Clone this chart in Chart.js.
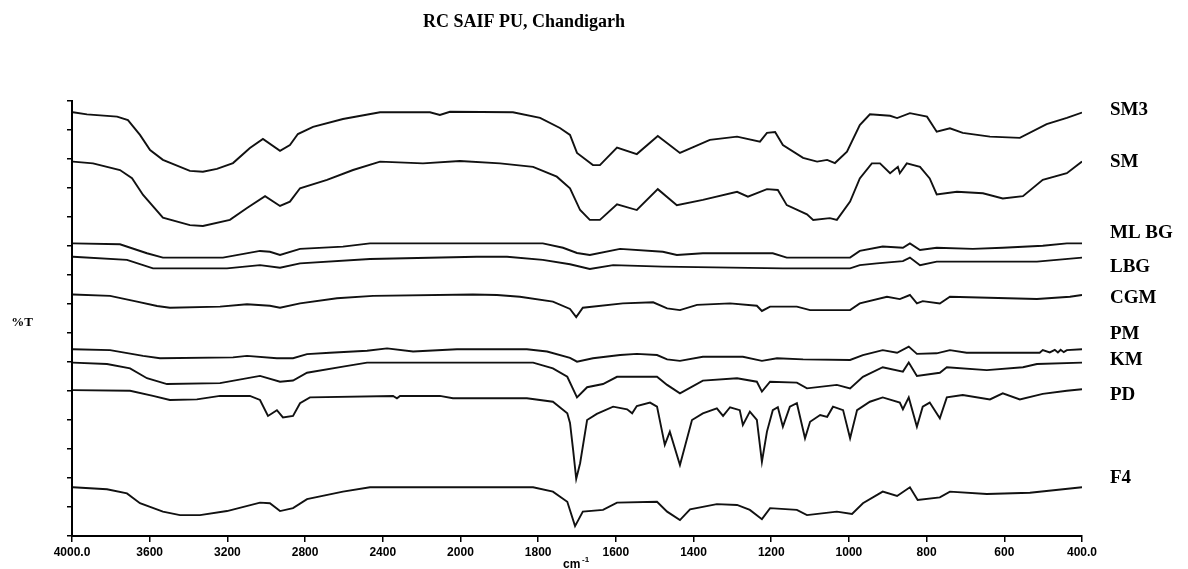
<!DOCTYPE html>
<html>
<head>
<meta charset="utf-8">
<title>RC SAIF PU, Chandigarh</title>
<script src="https://cdn.jsdelivr.net/npm/chart.js@4.4.1/dist/chart.umd.min.js"></script>
<style>
  body { margin: 0; background: #fff; }
  canvas { display: block; background: #fff; }
</style>
</head>
<body>
<canvas id="ftir" width="1188" height="569"></canvas>
<script>
'use strict';
// chart texts
var chartTitle = 'RC SAIF PU, Chandigarh';
var yTitle = '%T';
var tickWn = [4000, 3600, 3200, 2800, 2400, 2000, 1800, 1600, 1400, 1200, 1000, 800, 600, 400];
var tickText = ['4000.0', '3600', '3200', '2800', '2400', '2000', '1800', '1600', '1400', '1200', '1000', '800', '600', '400.0'];
var sampleNames = ['SM3', 'SM', 'ML BG', 'LBG', 'CGM', 'PM', 'KM', 'PD', 'F4'];

// spectra (wavenumber, stacked %T)
var sm3Wn = [3995, 3923, 3768, 3712, 3650, 3598, 3532, 3393, 3326, 3254, 3171, 3084, 3017, 2929, 2878, 2837, 2759, 2605, 2414, 2157, 2106, 2054, 1865, 1795, 1744, 1718, 1700, 1659, 1641, 1597, 1546, 1492, 1435, 1358, 1288, 1229, 1211, 1190, 1170, 1118, 1082, 1056, 1036, 1005, 972, 946, 894, 876, 843, 799, 774, 740, 707, 637, 560, 491, 439, 400];
var sm3T = [146.1, 145.4, 144.6, 143.4, 138.3, 133.1, 129.7, 125.9, 125.6, 126.6, 128.6, 133.8, 136.9, 132.8, 134.8, 138.6, 141.1, 143.8, 146.1, 146.1, 145.2, 146.3, 146.1, 144.2, 140.7, 138.3, 132.1, 127.9, 127.9, 133.9, 131.7, 137.9, 132.1, 136.6, 137.7, 136.0, 139.0, 139.3, 134.8, 130.4, 129.1, 129.7, 128.6, 132.5, 141.7, 145.4, 144.9, 144.1, 145.8, 144.6, 139.4, 140.6, 139.0, 137.7, 137.3, 142.0, 144.2, 146.0];

var smWn = [3995, 3892, 3753, 3691, 3634, 3532, 3393, 3326, 3187, 3099, 3006, 2929, 2878, 2826, 2687, 2553, 2414, 2193, 2003, 1898, 1813, 1752, 1718, 1692, 1667, 1641, 1597, 1546, 1492, 1443, 1376, 1288, 1260, 1211, 1183, 1160, 1108, 1092, 1049, 1031, 997, 972, 941, 920, 894, 874, 869, 851, 817, 792, 774, 722, 655, 604, 552, 501, 439, 400];
var smT = [129.1, 128.5, 126.2, 123.4, 117.6, 109.8, 107.2, 106.9, 109.0, 113.1, 117.2, 113.8, 115.3, 119.9, 122.8, 126.2, 129.1, 128.5, 129.3, 128.5, 127.3, 123.9, 119.9, 112.4, 109.0, 109.0, 114.4, 112.4, 119.6, 114.1, 115.9, 118.7, 117.0, 119.6, 119.3, 114.1, 110.9, 109.0, 109.6, 109.0, 115.3, 123.3, 128.5, 128.5, 125.1, 127.3, 125.1, 128.5, 127.3, 123.3, 117.8, 118.7, 118.2, 116.4, 117.2, 122.8, 125.1, 129.1];

var mlbgWn = [3995, 3753, 3614, 3532, 3223, 3032, 2981, 2929, 2826, 2605, 2466, 1788, 1736, 1700, 1667, 1589, 1479, 1443, 1376, 1196, 1160, 997, 972, 913, 861, 843, 817, 774, 681, 604, 501, 439, 400];
var mlbgT = [100.9, 100.6, 97.5, 96.0, 96.0, 98.3, 98.0, 96.9, 99.0, 99.8, 100.9, 100.9, 99.4, 97.6, 96.9, 99.0, 98.0, 96.9, 97.5, 97.5, 96.0, 96.0, 98.3, 99.8, 99.4, 100.9, 98.6, 99.4, 99.0, 99.4, 100.1, 100.9, 100.9];

var lbgWn = [3995, 3717, 3583, 3202, 3032, 2929, 2826, 2466, 1958, 1880, 1788, 1718, 1667, 1607, 1479, 1170, 997, 972, 928, 861, 843, 817, 774, 516, 400];
var lbgT = [96.3, 95.2, 92.3, 92.3, 93.4, 92.5, 94.0, 95.5, 96.3, 96.3, 95.2, 93.7, 92.1, 93.4, 92.9, 92.3, 92.3, 93.4, 94.0, 94.8, 96.0, 93.4, 94.6, 94.6, 96.0];

var cgmWn = [3995, 3804, 3665, 3562, 3496, 3238, 3099, 2981, 2929, 2826, 2636, 2450, 1968, 1906, 1847, 1762, 1718, 1702, 1685, 1582, 1504, 1468, 1435, 1391, 1306, 1237, 1224, 1203, 1134, 1100, 997, 972, 902, 869, 843, 825, 810, 766, 740, 516, 431, 400];
var cgmT = [83.3, 82.8, 80.8, 79.3, 78.7, 79.1, 79.9, 79.4, 78.7, 80.2, 82.0, 82.8, 83.3, 83.1, 82.5, 80.8, 78.3, 75.5, 78.7, 80.2, 80.6, 78.5, 77.9, 79.7, 80.2, 79.4, 77.6, 79.1, 79.1, 77.9, 77.9, 80.2, 82.5, 81.7, 83.1, 80.2, 81.0, 80.2, 82.5, 81.7, 82.5, 83.1];

var pmWn = [3995, 3804, 3634, 3547, 3171, 3099, 2945, 2862, 2790, 2672, 2481, 2378, 2244, 2018, 1829, 1777, 1718, 1700, 1659, 1589, 1546, 1494, 1468, 1435, 1376, 1273, 1224, 1185, 1118, 997, 964, 913, 876, 846, 825, 774, 740, 697, 509, 501, 483, 470, 462, 455, 447, 439, 400];
var pmT = [64.4, 64.1, 62.1, 61.3, 61.6, 62.1, 61.3, 61.3, 62.7, 63.2, 63.9, 64.7, 63.6, 64.4, 64.4, 63.6, 61.4, 60.1, 61.3, 62.4, 62.8, 62.4, 60.9, 60.4, 61.8, 61.8, 60.4, 61.3, 60.9, 60.7, 62.4, 64.1, 63.2, 65.3, 62.8, 63.0, 64.1, 63.2, 63.2, 64.1, 63.3, 64.2, 63.3, 64.2, 63.4, 64.1, 64.4];

var kmWn = [3995, 3820, 3701, 3614, 3511, 3238, 3032, 2929, 2862, 2790, 2605, 2481, 1813, 1762, 1725, 1700, 1674, 1633, 1597, 1494, 1468, 1435, 1376, 1288, 1237, 1224, 1203, 1134, 1108, 1031, 997, 964, 913, 861, 846, 825, 766, 748, 645, 552, 516, 400];
var kmT = [59.8, 59.3, 57.8, 54.4, 52.4, 52.7, 55.2, 53.2, 53.6, 56.3, 58.4, 59.8, 59.8, 57.8, 54.9, 47.8, 51.3, 52.4, 54.9, 54.9, 52.1, 49.2, 53.6, 54.4, 53.2, 49.8, 53.2, 52.9, 50.9, 52.1, 50.9, 54.9, 58.2, 56.7, 59.8, 55.2, 56.3, 58.2, 57.2, 58.2, 59.3, 59.8];

var pdWn = [3995, 3701, 3583, 3496, 3357, 3238, 3084, 3032, 2991, 2945, 2914, 2862, 2826, 2775, 2347, 2327, 2311, 2106, 2039, 1829, 1762, 1725, 1718, 1710, 1702, 1692, 1674, 1649, 1607, 1571, 1558, 1546, 1512, 1494, 1474, 1461, 1435, 1404, 1376, 1340, 1324, 1306, 1281, 1273, 1255, 1237, 1224, 1211, 1196, 1183, 1170, 1152, 1134, 1113, 1100, 1074, 1056, 1041, 1015, 997, 979, 946, 913, 869, 861, 846, 825, 810, 792, 766, 748, 707, 637, 604, 560, 501, 439, 400];
var pdT = [50.3, 50.1, 48.3, 46.9, 47.1, 48.3, 48.3, 46.9, 41.4, 43.4, 40.9, 41.4, 45.8, 47.8, 48.3, 47.5, 48.3, 48.3, 47.5, 47.5, 46.3, 42.3, 39.0, 29.7, 19.7, 25.1, 40.0, 42.1, 44.6, 43.7, 42.3, 44.8, 46.0, 44.6, 31.4, 36.0, 24.5, 40.0, 42.3, 44.0, 41.4, 44.4, 43.4, 38.3, 42.9, 40.0, 25.6, 36.0, 43.4, 44.4, 37.7, 44.6, 45.8, 33.7, 39.4, 41.7, 41.1, 44.6, 43.4, 33.7, 43.4, 46.3, 47.8, 46.0, 43.7, 47.8, 37.7, 44.6, 46.0, 40.6, 47.8, 48.6, 47.1, 49.2, 47.1, 49.0, 50.1, 50.6];

var f4Wn = [3995, 3820, 3717, 3650, 3532, 3444, 3341, 3202, 3032, 2981, 2929, 2862, 2790, 2605, 2466, 1813, 1762, 1725, 1705, 1685, 1633, 1597, 1494, 1468, 1435, 1409, 1340, 1288, 1255, 1224, 1203, 1134, 1108, 1031, 992, 964, 913, 876, 843, 823, 766, 740, 645, 534, 400];
var f4T = [16.8, 16.1, 14.7, 11.3, 8.4, 7.2, 7.2, 8.6, 11.5, 11.3, 8.6, 9.6, 12.7, 15.3, 16.8, 16.8, 15.3, 11.8, 3.4, 8.4, 9.0, 11.5, 11.8, 8.4, 5.5, 9.2, 11.0, 10.7, 9.0, 5.8, 9.6, 9.0, 7.2, 8.4, 7.6, 11.3, 15.3, 13.8, 16.8, 12.4, 13.3, 15.3, 14.5, 14.9, 16.8];

// where each name sits on the right (same %T units)
var nameT = [147, 129, 104.5, 92.8, 82, 69.5, 60.5, 48.7, 20];

// the axis is 400 cm-1 per division above 2000 and 200 below
function axisPos(wn) {
    return wn >= 2000 ? (4000 - wn) / 400 : 5 + (2000 - wn) / 200;
}

function makePoints(wn, t) {
    var pts = [];
    for (var i = 0; i < wn.length; i++) {
        pts.push({ x: axisPos(wn[i]), y: t[i] });
    }
    return pts;
}

var allWn = [sm3Wn, smWn, mlbgWn, lbgWn, cgmWn, pmWn, kmWn, pdWn, f4Wn];
var allT = [sm3T, smT, mlbgT, lbgT, cgmT, pmT, kmT, pdT, f4T];
var datasets = [];
for (var i = 0; i < sampleNames.length; i++) {
    datasets.push({
        label: sampleNames[i],
        data: makePoints(allWn[i], allT[i]),
        borderColor: '#111',
        borderWidth: 1.9,
        pointRadius: 0,
        tension: 0,
        fill: false
    });
}

// titles and sample names
var textPlugin = {
    id: 'ftirText',
    afterDraw: function (chart) {
        var ctx = chart.ctx;
        var area = chart.chartArea;
        var yScale = chart.scales.y;
        ctx.save();
        ctx.fillStyle = '#000';
        ctx.textBaseline = 'alphabetic';
        ctx.textAlign = 'center';
        ctx.font = 'bold 18px "Liberation Serif"';
        ctx.fillText(chartTitle, 524, 27);
        ctx.textBaseline = 'middle';
        ctx.font = 'bold 13px "Liberation Serif"';
        ctx.fillText(yTitle, 22, 323);
        // cm-1 under the axis
        ctx.textAlign = 'left';
        ctx.font = 'bold 12px "Liberation Sans"';
        ctx.fillText('cm', 563, 565);
        ctx.font = 'bold 8px "Liberation Sans"';
        ctx.fillText('-1', 582, 560);
        ctx.font = 'bold 19px "Liberation Serif"';
        for (var i = 0; i < sampleNames.length; i++) {
            ctx.fillText(sampleNames[i], area.right + 28, yScale.getPixelForValue(nameT[i]));
        }
        ctx.restore();
    }
};

var ctx = document.getElementById('ftir').getContext('2d');
var chart = new Chart(ctx, {
    type: 'line',
    data: { datasets: datasets },
    options: {
        responsive: false,
        animation: false,
        layout: { padding: { left: 0, right: 106, top: 101, bottom: 0 } },
        plugins: { legend: { display: false }, tooltip: { enabled: false } },
        scales: {
            x: {
                type: 'linear',
                min: 0,
                max: 13,
                afterFit: function (s) { s.height = 33; },
                ticks: {
                    stepSize: 1,
                    autoSkip: false,
                    maxRotation: 0,
                    padding: 3,
                    color: '#000',
                    font: { family: '"Liberation Sans"', size: 12, weight: 'bold' },
                    callback: function (value) { return tickText[value]; }
                },
                grid: { drawOnChartArea: false, color: '#000', lineWidth: 1.5, tickLength: 6 },
                border: { color: '#000', width: 2 }
            },
            y: {
                min: 0,
                max: 150,
                afterFit: function (s) { s.width = 72; },
                ticks: { stepSize: 10, display: false },
                grid: { drawOnChartArea: false, color: '#000', lineWidth: 1.5, tickLength: 5 },
                border: { color: '#000', width: 2 }
            }
        }
    },
    plugins: [textPlugin]
});
</script>
</body>
</html>
